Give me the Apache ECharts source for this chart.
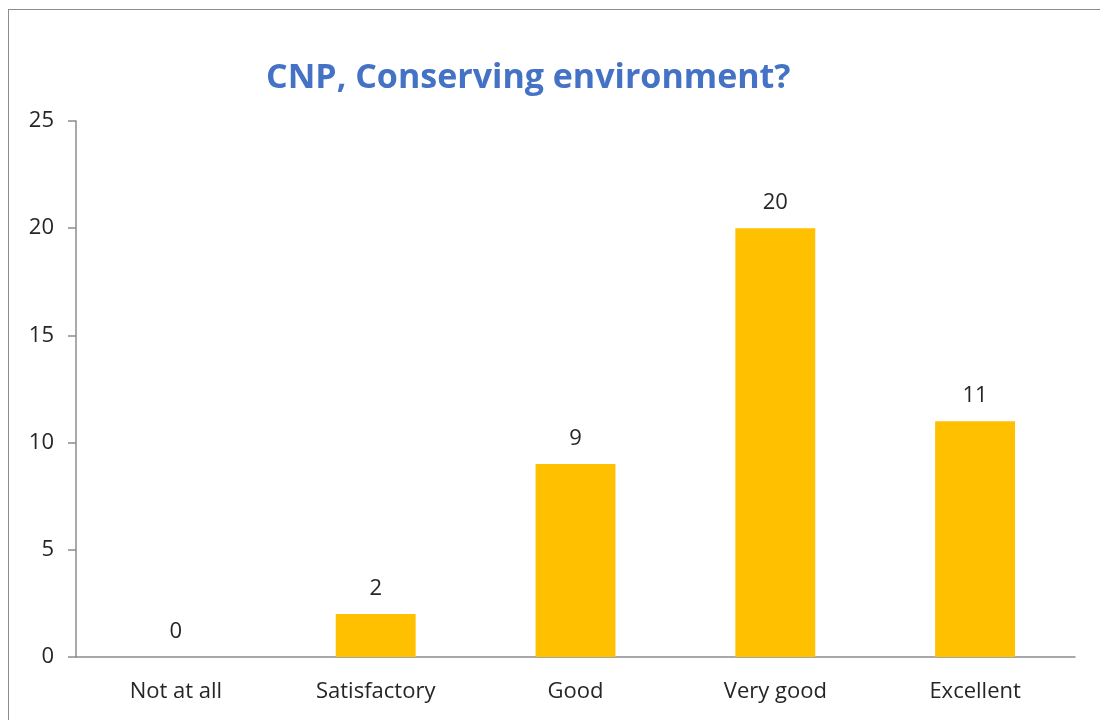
<!DOCTYPE html>
<html>
<head>
<meta charset="utf-8">
<script src="https://cdn.jsdelivr.net/npm/echarts@6/dist/echarts.min.js"></script>
<style>
html,body{margin:0;padding:0;background:#fff;}
#frame{position:absolute;left:8px;top:9px;width:1200px;height:800px;border:1.5px solid #8c8c8c;box-sizing:border-box;}
#chart{position:absolute;left:0;top:0;width:1100px;height:720px;}
</style>
</head>
<body>
<div id="frame"></div>
<div id="chart"></div>
<script>
const titleText = 'CNP, Conserving environment?';
const categories = ['Not at all', 'Satisfactory', 'Good', 'Very good', 'Excellent'];
const values = [0, 2, 9, 20, 11];
const yTicks = [0, 5, 10, 15, 20, 25];

const chart = echarts.init(document.getElementById('chart'), null, {renderer: 'canvas'});
chart.setOption({
  backgroundColor: 'transparent',
  animation: false,
  title: {
    text: titleText,
    left: 261,
    top: 56,
    textStyle: {fontFamily: 'Open Sans', fontSize: 34, fontWeight: 'bold', color: '#4472C4'}
  },
  grid: {left: 76, right: 25, top: 121, bottom: 63, containLabel: false},
  xAxis: {
    type: 'category',
    data: categories,
    axisLine: {show: true, lineStyle: {color: '#8c8c8c', width: 1.5}},
    axisTick: {show: false},
    axisLabel: {margin: 24, fontFamily: 'Open Sans', fontSize: 22, color: '#262626'}
  },
  yAxis: {
    type: 'value',
    min: yTicks[0],
    max: yTicks[yTicks.length - 1],
    interval: 5,
    axisLine: {show: true, lineStyle: {color: '#8c8c8c', width: 1.5}},
    axisTick: {show: true, length: 8, lineStyle: {color: '#8c8c8c', width: 1.5}},
    splitLine: {show: false},
    axisLabel: {margin: 22, fontFamily: 'Open Sans', fontSize: 22, color: '#262626'}
  },
  series: [{
    type: 'bar',
    data: values,
    barWidth: '40%',
    itemStyle: {color: '#FFC000'},
    label: {show: true, position: 'top', distance: 14, fontFamily: 'Open Sans', fontSize: 22, color: '#262626'}
  }]
});
</script>
</body>
</html>
